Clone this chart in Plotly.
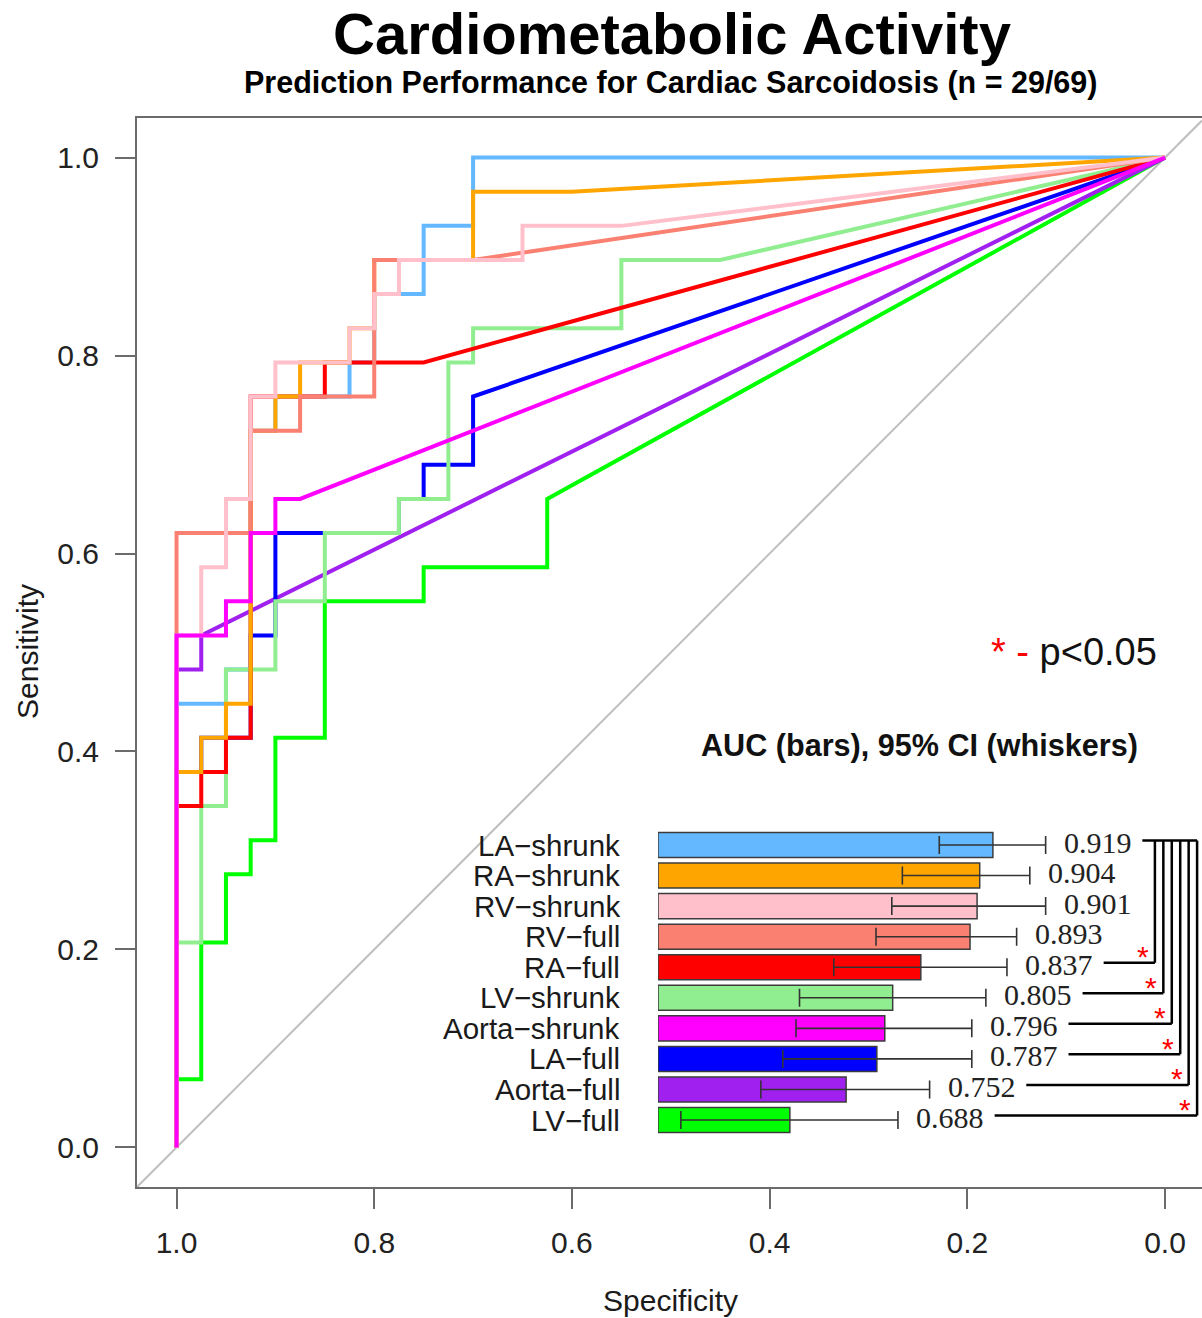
import plotly.graph_objects as go

# ---------------- data ----------------
N_POS = 29   # cases
N_NEG = 40   # controls

MODELS = ["LA\u2212shrunk", "RA\u2212shrunk", "RV\u2212shrunk", "RV\u2212full", "RA\u2212full",
          "LV\u2212shrunk", "Aorta\u2212shrunk", "LA\u2212full", "Aorta\u2212full", "LV\u2212full"]
AUC = [0.919, 0.904, 0.901, 0.893, 0.837, 0.805, 0.796, 0.787, 0.752, 0.688]
CI_LO = [0.858, 0.816, 0.804, 0.786, 0.738, 0.699, 0.695, 0.680, 0.655, 0.564]
CI_HI = [0.979, 0.961, 0.979, 0.946, 0.935, 0.911, 0.895, 0.895, 0.847, 0.811]
SIG = [False, False, False, False, True, True, True, True, True, True]
COLORS = ["#63B8FF", "#FFA500", "#FFC0CB", "#FA8072", "#FF0000",
          "#90EE90", "#FF00FF", "#0000FF", "#A020F0", "#00FF00"]

# ROC step paths: false-positive counts / true-positive counts
FP_LA_SHRUNK = [0, 0, 2, 2, 3, 3, 4, 4, 7, 7, 8, 8, 10, 10, 12, 12, 40]
TP_LA_SHRUNK = [0, 13, 13, 14, 14, 21, 21, 22, 22, 23, 23, 25, 25, 27, 27, 29, 29]
FP_RA_SHRUNK = [0, 0, 1, 1, 2, 2, 3, 3, 4, 4, 5, 5, 7, 7, 8, 8, 12, 12, 16, 40]
TP_RA_SHRUNK = [0, 11, 11, 12, 12, 13, 13, 21, 21, 22, 22, 23, 23, 24, 24, 26, 26, 28, 28, 29]
FP_RV_SHRUNK = [0, 0, 1, 1, 2, 2, 3, 3, 4, 4, 7, 7, 8, 8, 9, 9, 14, 14, 18, 40]
TP_RV_SHRUNK = [0, 15, 15, 17, 17, 19, 19, 22, 22, 23, 23, 24, 24, 25, 25, 26, 26, 27, 27, 29]
FP_RV_FULL = [0, 0, 3, 3, 5, 5, 8, 8, 12, 40]
TP_RV_FULL = [0, 18, 18, 21, 21, 22, 22, 26, 26, 29]
FP_RA_FULL = [0, 0, 1, 1, 2, 2, 3, 3, 6, 6, 10, 40]
TP_RA_FULL = [0, 10, 10, 11, 11, 12, 12, 22, 22, 23, 23, 29]
FP_LV_SHRUNK = [0, 0, 1, 1, 2, 2, 4, 4, 6, 6, 9, 9, 11, 11, 12, 12, 18, 18, 22, 40]
TP_LV_SHRUNK = [0, 6, 6, 10, 10, 14, 14, 16, 16, 18, 18, 19, 19, 23, 23, 24, 24, 26, 26, 29]
FP_AORTA_SHRUNK = [0, 0, 2, 2, 3, 3, 4, 4, 5, 40]
TP_AORTA_SHRUNK = [0, 15, 15, 16, 16, 18, 18, 19, 19, 29]
FP_LA_FULL = [0, 0, 1, 1, 3, 3, 4, 4, 9, 9, 10, 10, 12, 12, 40]
TP_LA_FULL = [0, 11, 11, 12, 12, 15, 15, 18, 18, 19, 19, 20, 20, 22, 29]
FP_AORTA_FULL = [0, 0, 1, 1, 40]
TP_AORTA_FULL = [0, 14, 14, 15, 29]
FP_LV_FULL = [0, 0, 1, 1, 2, 2, 3, 3, 4, 4, 6, 6, 10, 10, 15, 15, 40]
TP_LV_FULL = [0, 2, 2, 6, 6, 8, 8, 9, 9, 12, 12, 16, 16, 17, 17, 19, 29]

ROC_FP = [FP_LA_SHRUNK, FP_RA_SHRUNK, FP_RV_SHRUNK, FP_RV_FULL, FP_RA_FULL,
          FP_LV_SHRUNK, FP_AORTA_SHRUNK, FP_LA_FULL, FP_AORTA_FULL, FP_LV_FULL]
ROC_TP = [TP_LA_SHRUNK, TP_RA_SHRUNK, TP_RV_SHRUNK, TP_RV_FULL, TP_RA_FULL,
          TP_LV_SHRUNK, TP_AORTA_SHRUNK, TP_LA_FULL, TP_AORTA_FULL, TP_LV_FULL]

TITLE = "Cardiometabolic Activity"
SUBTITLE = "Prediction Performance for Cardiac Sarcoidosis (n = 29/69)"
X_TICKS = [1.0, 0.8, 0.6, 0.4, 0.2, 0.0]
Y_TICKS = [0.0, 0.2, 0.4, 0.6, 0.8, 1.0]

# ---------------- layout / style constants ----------------
W, H = 1202, 1318
ML, MR, MT, MB = 137, 0, 118, 131
PW, PH = W - ML - MR, H - MT - MB
X_RANGE = [1.04, -0.0374]
Y_RANGE = [-0.04, 1.04]
DRAW_ORDER = [9, 8, 7, 0, 5, 4, 1, 3, 2, 6]
SANS = "Liberation Sans, Arial, sans-serif"
SERIF = "Liberation Serif, Times New Roman, serif"
AXIS_GREY = "#6b6b6b"

BAR_BASE = 0.538          # inset x-axis start
PX_PER_AUC = 879.0        # inset scale
BAR_LEFT_PX = 658
LINE_GAP = 0.11           # gap (AUC units) between whisker end and bracket line
BRACKET_X0 = 1.1033
BRACKET_STEP = 0.0096
ROW_LINE_OFF = -0.15
ROW_PX = 30.56
ROW0_PX = 845


def fx(px):
    """picture x pixel -> paper fraction"""
    return (px - ML) / PW


def fy(py):
    """picture y pixel -> paper fraction"""
    return (H - MB - py) / PH


fig = go.Figure()

# chance diagonal
fig.add_trace(go.Scatter(x=[X_RANGE[0], X_RANGE[1]], y=[1 - X_RANGE[0], 1 - X_RANGE[1]],
                         mode="lines", line=dict(color="#BEBEBE", width=2),
                         hoverinfo="skip", showlegend=False))

for i in DRAW_ORDER:
    fig.add_trace(go.Scatter(
        x=[1 - f / N_NEG for f in ROC_FP[i]],
        y=[t / N_POS for t in ROC_TP[i]],
        mode="lines", line=dict(color=COLORS[i], width=4),
        name=MODELS[i], showlegend=False))

rows = list(range(len(MODELS)))

# inset bars
fig.add_trace(go.Bar(
    y=rows, x=[a - BAR_BASE for a in AUC], base=BAR_BASE, orientation="h",
    marker=dict(color=COLORS, line=dict(color="#3c3c3c", width=1.5)),
    width=0.82, xaxis="x2", yaxis="y2", showlegend=False))

# whiskers
fig.add_trace(go.Scatter(
    x=AUC, y=rows, mode="markers", marker=dict(color="rgba(0,0,0,0)", size=2),
    error_x=dict(type="data", symmetric=False,
                 array=[h - a for h, a in zip(CI_HI, AUC)],
                 arrayminus=[a - l for a, l in zip(AUC, CI_LO)],
                 color="#333333", thickness=1.6, width=9),
    xaxis="x2", yaxis="y2", showlegend=False, cliponaxis=False))

annotations = []
shapes = []

for i, name in enumerate(MODELS):
    annotations.append(dict(text=name, xref="paper", x=fx(621), xanchor="right",
                            yref="y2", y=i, yanchor="middle", showarrow=False, borderpad=0,
                            font=dict(family=SANS, size=29.5, color="#1a1a1a")))
    annotations.append(dict(text=f"{AUC[i]:.3f}", xref="x2", x=CI_HI[i], xanchor="left",
                            xshift=17, yref="y2", y=i, yshift=3, yanchor="middle",
                            showarrow=False, borderpad=0,
                            font=dict(family=SERIF, size=30, color="#222222")))

# significance brackets
sig_rows = [i for i, s in enumerate(SIG) if s]
bx = [BRACKET_X0 + j * BRACKET_STEP for j in range(len(sig_rows))]
line_style = dict(color="black", width=2.5)
shapes.append(dict(type="line", xref="x2", yref="y2", x0=CI_HI[0] + LINE_GAP, x1=bx[-1],
                   y0=ROW_LINE_OFF, y1=ROW_LINE_OFF, line=line_style))
for j, i in enumerate(sig_rows):
    shapes.append(dict(type="line", xref="x2", yref="y2", x0=bx[j], x1=bx[j],
                       y0=ROW_LINE_OFF, y1=i + ROW_LINE_OFF, line=line_style))
    shapes.append(dict(type="line", xref="x2", yref="y2", x0=CI_HI[i] + LINE_GAP, x1=bx[j],
                       y0=i + ROW_LINE_OFF, y1=i + ROW_LINE_OFF, line=line_style))
    annotations.append(dict(text="*", xref="x2", x=bx[j], xshift=-12, xanchor="center",
                            yref="y2", y=i + ROW_LINE_OFF, yshift=6, yanchor="middle",
                            showarrow=False, borderpad=0,
                            font=dict(family=SANS, size=30, color="red")))

# titles
annotations += [
    dict(text=f"<b>{TITLE}</b>", xref="paper", x=fx(672), xanchor="center",
         yref="paper", y=fy(33.5), yanchor="middle", showarrow=False, borderpad=0,
         font=dict(family=SANS, size=58, color="black")),
    dict(text=f"<b>{SUBTITLE}</b>", xref="paper", x=fx(670), xanchor="center",
         yref="paper", y=fy(82.5), yanchor="middle", showarrow=False, borderpad=0,
         font=dict(family=SANS, size=30.5, color="black")),
    dict(text="Specificity", xref="paper", x=fx(670), xanchor="center",
         yref="paper", y=fy(1300), yanchor="middle", showarrow=False, borderpad=0,
         font=dict(family=SANS, size=30, color="#1a1a1a")),
    dict(text="Sensitivity", xref="paper", x=fx(27), xanchor="center",
         yref="paper", y=fy(652), yanchor="middle", textangle=-90, showarrow=False,
         borderpad=0, font=dict(family=SANS, size=30, color="#1a1a1a")),
    dict(text="<b>AUC (bars), 95% CI (whiskers)</b>", xref="paper", x=fx(919),
         xanchor="center", yref="paper", y=fy(745), yanchor="middle", showarrow=False,
         borderpad=0, font=dict(family=SANS, size=30.6, color="#111111")),
    dict(text="<span style='color:red'>*</span> <span style='color:red'>-</span> p&lt;0.05",
         xref="paper", x=fx(1158), xanchor="right", yref="paper", y=fy(652),
         yanchor="middle", showarrow=False, borderpad=0,
         font=dict(family=SANS, size=38, color="#111111")),
]

axis_common = dict(showgrid=False, zeroline=False, showline=True, linecolor=AXIS_GREY,
                   linewidth=2, ticks="outside", ticklen=20, tickwidth=2, tickcolor=AXIS_GREY,
                   tickfont=dict(family=SANS, size=30, color="#222222"))

top_px = ROW0_PX - 0.8 * ROW_PX
bot_px = ROW0_PX + 9.8 * ROW_PX

fig.update_layout(
    width=W, height=H, autosize=False,
    margin=dict(l=ML, r=MR, t=MT, b=MB, pad=0),
    paper_bgcolor="white", plot_bgcolor="rgba(0,0,0,0)",
    showlegend=False,
    xaxis=dict(range=X_RANGE, tickvals=X_TICKS, ticktext=[f"{v:.1f}" for v in X_TICKS],
               mirror=True, ticklabelstandoff=8, **axis_common),
    yaxis=dict(range=Y_RANGE, tickvals=Y_TICKS, ticktext=[f"{v:.1f}" for v in Y_TICKS],
               mirror=False, ticklabelstandoff=10, **axis_common),
    xaxis2=dict(domain=[fx(BAR_LEFT_PX), 1.0],
                range=[BAR_BASE, BAR_BASE + (W - BAR_LEFT_PX) / PX_PER_AUC],
                anchor="y2", visible=False),
    yaxis2=dict(domain=[fy(bot_px), fy(top_px)],
                range=[9.8, -0.8], anchor="x2", visible=False),
    annotations=annotations, shapes=shapes,
)

# drop the browser's default 8px page margin so the figure fills the window exactly
fig.write_html("out.html",
               config={"displayModeBar": False},
               post_script="document.body.style.margin='0';document.body.style.overflow='hidden';")
